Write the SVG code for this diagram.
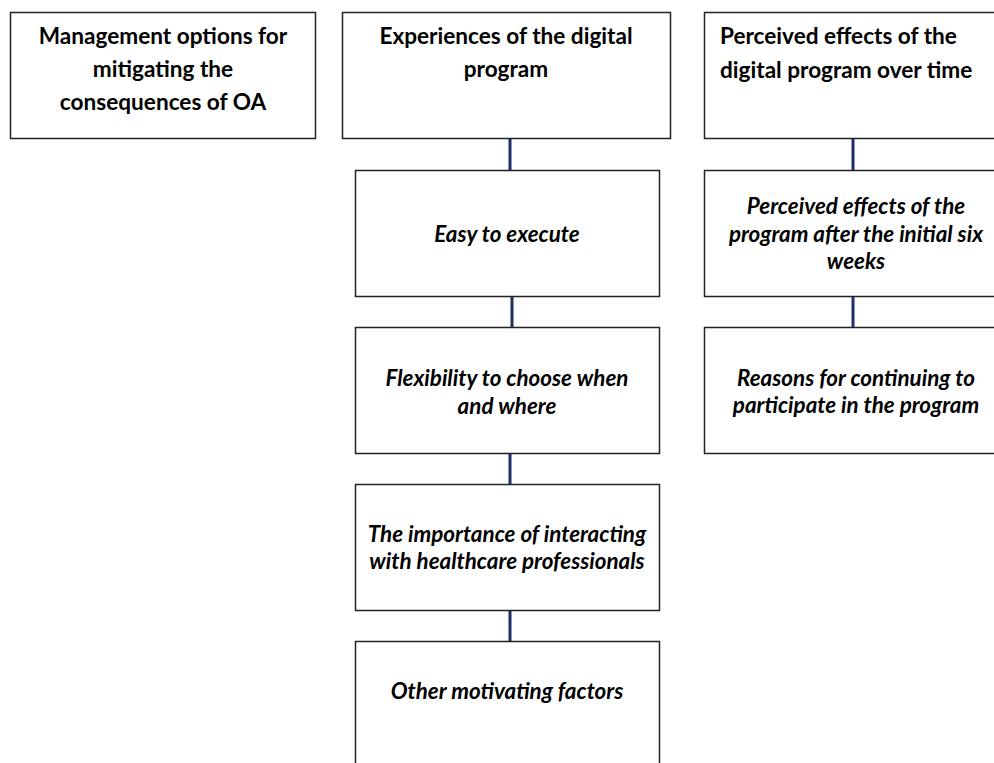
<svg xmlns="http://www.w3.org/2000/svg" width="994" height="763" viewBox="0 0 994 763">
<style>
.box{fill:#fff;stroke:#222;stroke-width:1.5}
.h{font-family:Lato,"Open Sans","Liberation Sans",sans-serif;font-weight:bold;font-size:22.6px;fill:#000}
.s{font-family:Lato,"Open Sans","Liberation Sans",sans-serif;font-weight:bold;font-style:italic;font-size:22.4px;fill:#000}
.c{text-anchor:middle}
.ln{stroke:#1f3068;stroke-width:3;fill:none}
</style>
<rect width="994" height="763" fill="#fff"/>
<g id="connectors">
<line class="ln" x1="510" y1="139" x2="510" y2="170"/>
<line class="ln" x1="512" y1="297" x2="512" y2="327"/>
<line class="ln" x1="510" y1="453" x2="510" y2="484"/>
<line class="ln" x1="510" y1="610" x2="510" y2="641"/>
<line class="ln" x1="853" y1="139" x2="853" y2="170"/>
<line class="ln" x1="853" y1="297" x2="853" y2="327"/>
</g>
<g id="n1">
<rect class="box" x="10.5" y="12.5" width="305" height="126"/>
<text class="h c" x="163" y="44">Management options for</text>
<text class="h c" x="163" y="77">mitigating the</text>
<text class="h c" x="163" y="110">consequences of OA</text>
</g>
<g id="n2">
<rect class="box" x="342.5" y="12.5" width="328" height="126"/>
<text class="h c" x="506" y="44">Experiences of the digital</text>
<text class="h c" x="506" y="77">program</text>
</g>
<g id="n3">
<rect class="box" x="704.5" y="12.5" width="300" height="126"/>
<text class="h" x="720" y="44">Perceived effects of the</text>
<text class="h" x="720" y="78">digital program over time</text>
</g>
<g id="n4">
<rect class="box" x="355.5" y="170.5" width="304" height="126"/>
<text class="s c" x="507" y="242">Easy to execute</text>
</g>
<g id="n5">
<rect class="box" x="355.5" y="327.5" width="304" height="126"/>
<text class="s c" x="507" y="386">Flexibility to choose when</text>
<text class="s c" x="507" y="414">and where</text>
</g>
<g id="n6">
<rect class="box" x="355.5" y="484.5" width="304" height="126"/>
<text class="s c" x="507" y="542">The importance of interacting</text>
<text class="s c" x="507" y="569">with healthcare professionals</text>
</g>
<g id="n7">
<rect class="box" x="355.5" y="641.5" width="304" height="140"/>
<text class="s c" x="507" y="699">Other motivating factors</text>
</g>
<g id="n8">
<rect class="box" x="704.5" y="170.5" width="300" height="126"/>
<text class="s c" x="856" y="214">Perceived effects of the</text>
<text class="s c" x="856" y="242">program after the initial six</text>
<text class="s c" x="856" y="269">weeks</text>
</g>
<g id="n9">
<rect class="box" x="704.5" y="327.5" width="300" height="126"/>
<text class="s c" x="856" y="386">Reasons for continuing to</text>
<text class="s c" x="856" y="413">participate in the program</text>
</g>
</svg>
